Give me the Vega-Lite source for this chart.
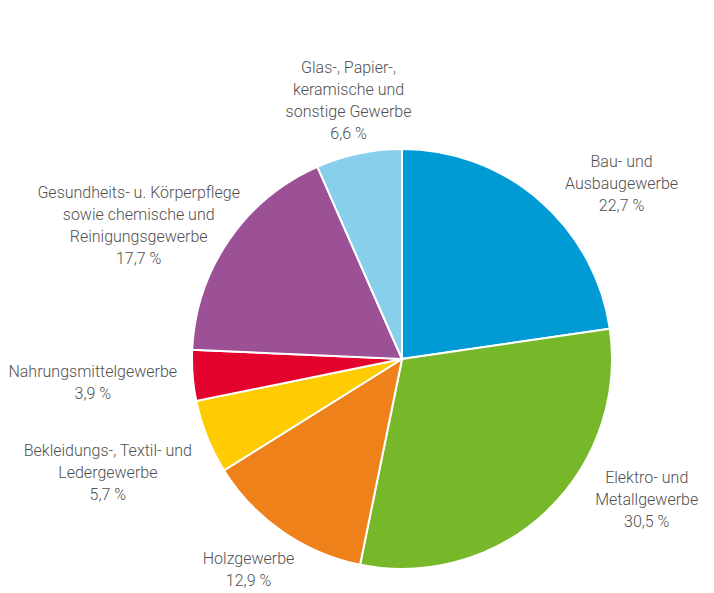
{
  "$schema": "https://vega.github.io/schema/vega-lite/v6.json",
  "autosize": {"type": "none"},
  "width": 420,
  "height": 420,
  "padding": {"left": 192, "top": 149, "right": 102, "bottom": 24},
  "background": "white",
  "view": {"stroke": null},
  "data": {
    "values": [
      {"sector": "Bau", "rank": 1, "share": 22.7, "lines": ["Bau- und", "Ausbaugewerbe", "22,7 %"]},
      {"sector": "Elektro", "rank": 2, "share": 30.5, "lines": ["Elektro- und", "Metallgewerbe", "30,5 %"]},
      {"sector": "Holz", "rank": 3, "share": 12.9, "lines": ["Holzgewerbe", "12,9 %"]},
      {"sector": "Bekleidung", "rank": 4, "share": 5.7, "lines": ["Bekleidungs-, Textil- und", "Ledergewerbe", "5,7 %"]},
      {"sector": "Nahrung", "rank": 5, "share": 3.9, "lines": ["Nahrungsmittelgewerbe", "3,9 %"]},
      {"sector": "Gesundheit", "rank": 6, "share": 17.7, "lines": ["Gesundheits- u. Körperpflege", "sowie chemische und", "Reinigungsgewerbe", "17,7 %"]},
      {"sector": "Glas", "rank": 7, "share": 6.6, "lines": ["Glas-, Papier-,", "keramische und", "sonstige Gewerbe", "6,6 %"]}
    ]
  },
  "encoding": {
    "theta": {"field": "share", "type": "quantitative", "stack": true},
    "order": {"field": "rank", "type": "quantitative"}
  },
  "layer": [
    {
      "mark": {"type": "arc", "outerRadius": 210, "stroke": "white", "strokeWidth": 2},
      "encoding": {
        "color": {
          "field": "sector",
          "type": "nominal",
          "scale": {
            "domain": ["Bau", "Elektro", "Holz", "Bekleidung", "Nahrung", "Gesundheit", "Glas"],
            "range": ["#009bd5", "#77b82a", "#ee8119", "#fecc00", "#e3032d", "#9c5096", "#87cfeb"]
          },
          "legend": null
        }
      }
    },
    {
      "mark": {
        "type": "text",
        "radius": 250,
        "font": "Roboto",
        "fontSize": 16,
        "fontWeight": 300,
        "color": "#505050",
        "lineHeight": 22,
        "align": "center",
        "baseline": "middle",
        "dx": {"expr": "[56, 73, -11, -62, -60, -57, -2][datum.rank - 1]"},
        "dy": {"expr": "[-8, -63, -5, -1, -7, -25, -46][datum.rank - 1]"}
      },
      "encoding": {
        "text": {"field": "lines"}
      }
    }
  ]
}
